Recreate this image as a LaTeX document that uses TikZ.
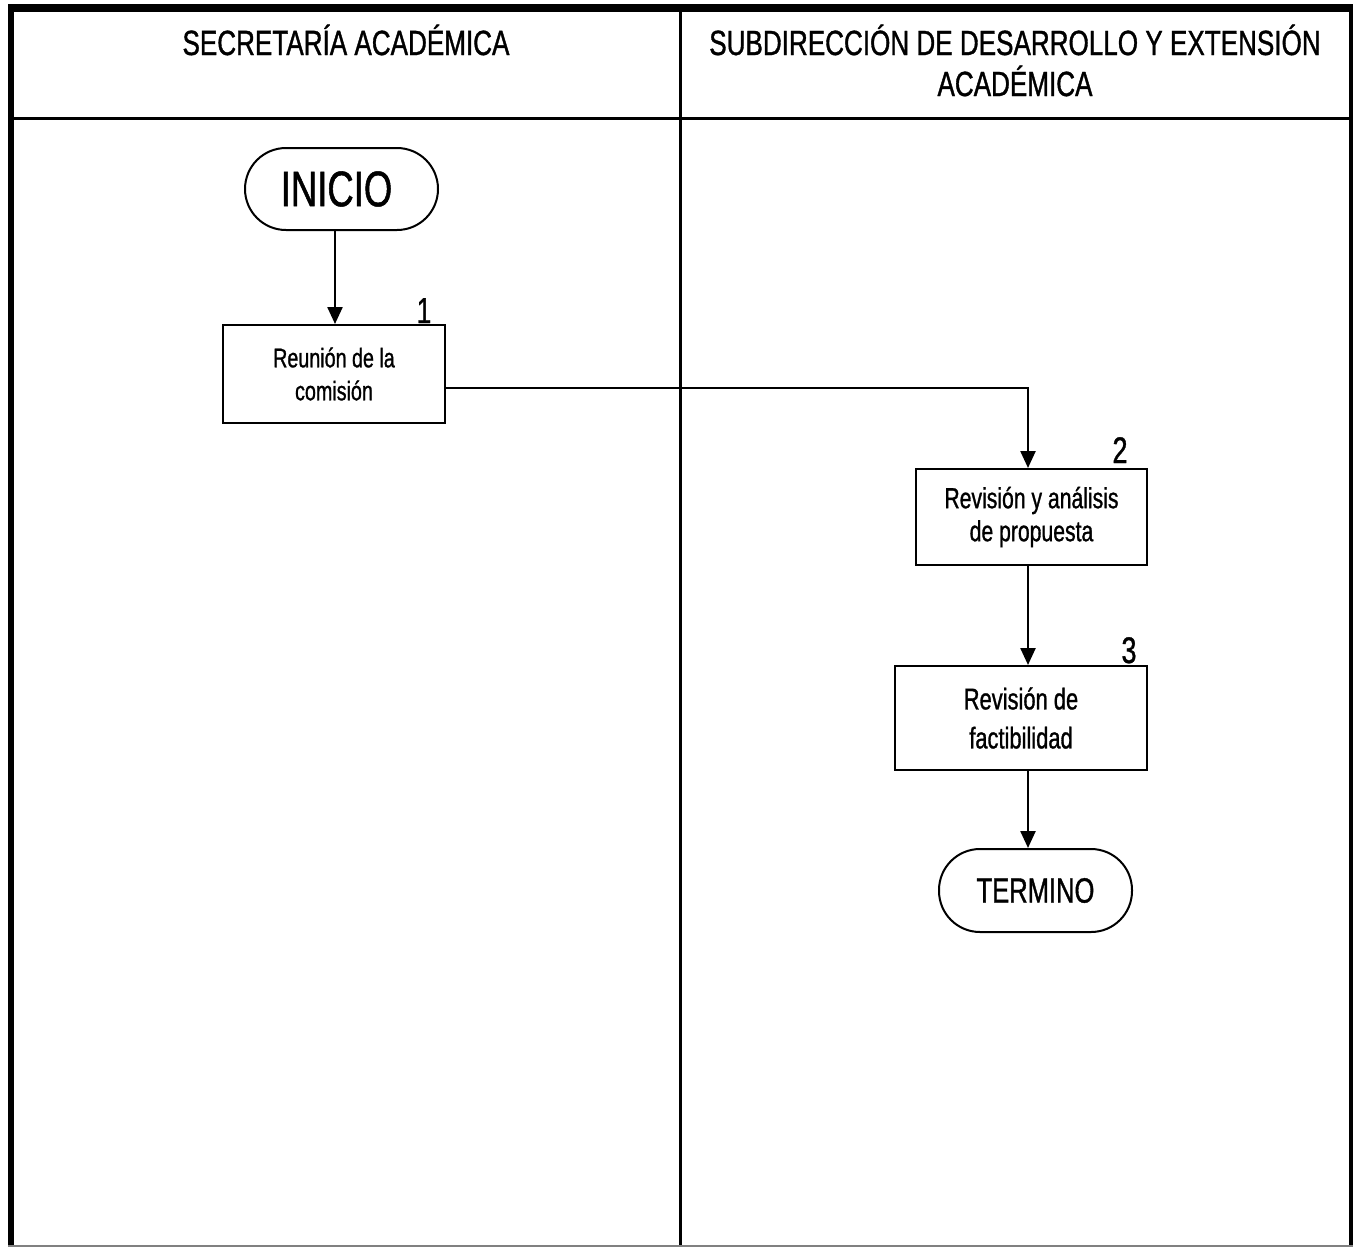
\documentclass[tikz,border=0pt]{standalone}
\usepackage{fontspec}
\setmainfont[FakeStretch=0.73,FakeBold=1]{Liberation Sans}
\newfontfamily\hdrfont[FakeStretch=0.745,FakeBold=1]{Liberation Sans}
\usetikzlibrary{arrows.meta}
\begin{document}
\begin{tikzpicture}[x=1pt,y=-1pt,
  box/.style={draw, line width=2pt, align=center, inner sep=0pt},
  term/.style={draw, line width=2pt, align=center, inner sep=0pt, rounded corners=41pt},
  flow/.style={line width=2.4pt, -{Triangle[width=15pt,length=17pt]}},
  numlbl/.style={anchor=base, inner sep=0pt},
  hdr/.style={align=center, inner sep=0pt, font=\hdrfont\fontsize{35}{41}\selectfont}
]
\useasboundingbox[fill=white] (0,0) rectangle (1355,1248);
% frame
\fill (8,4) rectangle (1353,12);
\fill (8,4) rectangle (14,1246);
\fill (1349,4) rectangle (1353,1246);
\fill (14,117) rectangle (1349,120);
\fill (679,12) rectangle (682,1246);
\draw[gray, line width=1.5pt] (8,1246) -- (1353,1246);
% headers
\node[hdr, anchor=base] (h1) at (346,55) {SECRETARÍA ACADÉMICA};
\node[hdr, anchor=base] (h2) at (1015,96) {SUBDIRECCIÓN DE DESARROLLO Y EXTENSIÓN\\ACADÉMICA};
% nodes
\node[term, minimum width=193pt, minimum height=82pt, font=\fontsize{50}{55}\selectfont] (start) at (341.5,189) {INICIO\hspace{10pt}};
\node[box, minimum width=222pt, minimum height=98pt, font=\fontsize{27}{33}\selectfont] (b1) at (334,374) {Reunión de la\\comisión};
\node[box, minimum width=231pt, minimum height=96pt, font=\fontsize{29}{33}\selectfont] (b2) at (1031.5,517) {Revisión y análisis\\de propuesta};
\node[box, minimum width=252pt, minimum height=104pt, font=\fontsize{30}{39}\selectfont] (b3) at (1021,718) {Revisión de\\factibilidad};
\node[term, minimum width=193pt, minimum height=83pt, font=\fontsize{35}{40}\selectfont] (end) at (1035.5,890.5) {TERMINO};
% numbers
\node[numlbl, font=\fontsize{36}{40}\selectfont] (n1) at (424,323) {1};
\node[numlbl, font=\fontsize{37}{40}\selectfont] (n2) at (1120,463) {2};
\node[numlbl, font=\fontsize{37}{40}\selectfont] (n3) at (1129,663) {3};
% connectors
\coordinate (c1) at (335,0);
\coordinate (turn) at (1028,388);
\draw[flow] (start.south -| c1) -- (b1.north -| c1);
\draw[flow] (b1.east |- turn) -- (turn) -- (turn |- b2.north);
\draw[flow] (b2.south -| turn) -- (b3.north -| turn);
\draw[flow] (b3.south -| turn) -- (end.north -| turn);
\end{tikzpicture}
\end{document}
